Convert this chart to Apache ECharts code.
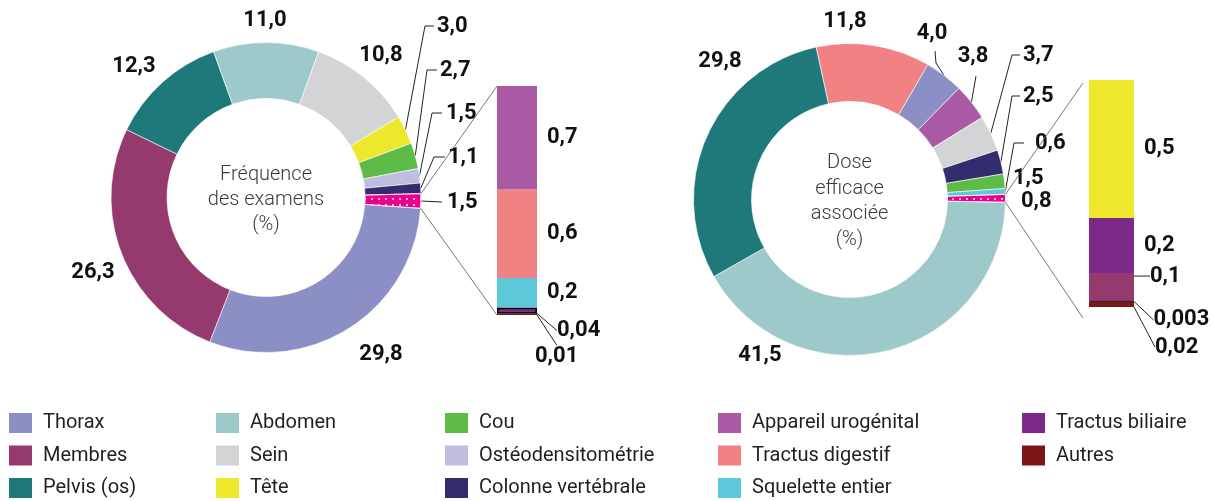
<!DOCTYPE html>
<html><head><meta charset="utf-8">
<script src="https://cdn.jsdelivr.net/npm/echarts@6/dist/echarts.min.js"></script>
<style>html,body{margin:0;padding:0;background:#fff}#c{width:1212px;height:501px}</style>
</head><body><div id="c"></div>
<script>
// ---------------- DATA ----------------
const freqNames = ['Thorax','Membres','Pelvis (os)','Abdomen','Sein','Tête','Cou','Ostéodensitométrie','Colonne vertébrale'];
const freqValues = [29.8, 26.3, 12.3, 11.0, 10.8, 3.0, 2.7, 1.5, 1.1];
const freqOtherTotal = 1.5;
const freqOtherNames = ['Appareil urogénital','Tractus digestif','Squelette entier','Tractus biliaire','Autres'];
const freqOtherValues = [0.7, 0.6, 0.2, 0.04, 0.01];

const doseNames = ['Abdomen','Pelvis (os)','Tractus digestif','Thorax','Appareil urogénital','Sein','Colonne vertébrale','Cou','Squelette entier'];
const doseValues = [41.5, 29.8, 11.8, 4.0, 3.8, 3.7, 2.5, 1.5, 0.6];
const doseOtherTotal = 0.8;
const doseOtherNames = ['Tête','Tractus biliaire','Membres','Ostéodensitométrie','Autres'];
const doseOtherValues = [0.5, 0.2, 0.1, 0.003, 0.02];

const freqTitle = 'Fréquence\ndes examens\n(%)';
const doseTitle = 'Dose\nefficace\nassociée\n(%)';
const otherName = 'Autres examens';

const legendCols = [
  ['Thorax','Membres','Pelvis (os)'],
  ['Abdomen','Sein','Tête'],
  ['Cou','Ostéodensitométrie','Colonne vertébrale'],
  ['Appareil urogénital','Tractus digestif','Squelette entier'],
  ['Tractus biliaire','Autres']
];

// ---------------- STYLE / LAYOUT ----------------
const COLORS = {
  'Thorax':'#8B8FC5','Membres':'#943A6E','Pelvis (os)':'#1F787A','Abdomen':'#9DC9CA',
  'Sein':'#D3D4D6','Tête':'#EEE82C','Cou':'#5FBB47','Ostéodensitométrie':'#BFBEDF',
  'Colonne vertébrale':'#312D6F','Appareil urogénital':'#AA5AA5','Tractus digestif':'#F28184',
  'Squelette entier':'#5CC8D9','Tractus biliaire':'#7C2A8A','Autres':'#7D1416'
};
const OTHER_COLOR = '#EC008C';
const legendLeft = [9, 216, 445, 718, 1022];

const PIE_L = {center:[266,197.5], radius:[99,155], startAngle:-4};
const PIE_R = {center:[849.5,199.5], radius:[98,156], startAngle:-1};
const BAR_L = {left:497, top:86, width:40, height:229, conn:{dx:0, top:0, bottom:0}};
const BAR_R = {left:1089, top:80, width:45, height:227, conn:{dx:-6, top:3, bottom:11}};

const freqLabelPos = {
  'Thorax':{x:381,y:354,align:'center'},
  'Membres':{x:93,y:272,align:'center'},
  'Pelvis (os)':{x:134,y:66,align:'center'},
  'Abdomen':{x:265,y:20,align:'center'},
  'Sein':{x:381,y:55,align:'center'},
  'Tête':{x:437,y:26,line:[[425,26],[434,26]]},
  'Cou':{x:440,y:70,line:[[427,70],[437,70]]},
  'Ostéodensitométrie':{x:446,y:113,line:[[432,113],[442,113]]},
  'Colonne vertébrale':{x:448,y:157,line:[[434,157],[445,157]]},
  [otherName]:{x:447,y:202,line:[[442,202]]}
};
const doseLabelPos = {
  'Abdomen':{x:760,y:355,align:'center'},
  'Pelvis (os)':{x:720,y:61,align:'center'},
  'Tractus digestif':{x:845,y:21,align:'center'},
  'Thorax':{x:932,y:33,align:'center',line:[[936,63],[935,51]]},
  'Appareil urogénital':{x:973,y:56,align:'center',line:[[976,76]]},
  'Sein':{x:1023,y:55,line:[[1012,55],[1020,55]]},
  'Colonne vertébrale':{x:1023,y:96,line:[[1012,96],[1020,96]]},
  'Cou':{x:1013,y:178},
  'Squelette entier':{x:1035,y:143,line:[[1014,143],[1024,143]]},
  [otherName]:{x:1021,y:201}
};

// bar label placements relative to segment rect (R = right edge, B = bottom)
const barLabelL = {
  'Tractus biliaire': r => { const R=r.x+r.width, B=r.y+r.height, lx=R+20, ly=B+17;
    return {x:lx,y:ly,pts:[[R,r.y+r.height/2],[R+13,ly],[R+18,ly]]}; },
  'Autres': r => { const R=r.x+r.width, B=r.y+r.height, lx=R-2, ly=B+41;
    return {x:lx,y:ly,pts:[[R+1,B],[R+3,ly-12]]}; }
};
const barLabelR = {
  'Membres': r => { const R=r.x+r.width, lx=R+16, ly=r.y+3;
    return {x:lx,y:ly,pts:[[R+1,r.y+r.height/2],[R+11,ly+4]]}; },
  'Ostéodensitométrie': r => { const R=r.x+r.width, B=r.y+r.height, lx=R+19, ly=B+18;
    return {x:lx,y:ly,pts:[[R+2,B],[R+12,ly-5]]}; },
  'Autres': r => { const R=r.x+r.width, lx=R+21, ly=r.y+r.height+40;
    return {x:lx,y:ly,pts:[[R+3,r.y+4],[R+6,ly],[R+16,ly]]}; }
};
const outlined = {L:'Tractus biliaire', R:'Ostéodensitométrie'};

const LABEL_FONT = {fontFamily:'Roboto', fontWeight:'bold', fontSize:22, color:'#111'};
const fmt1 = v => Number(v).toFixed(1).replace('.', ',');
const fmtRaw = v => String(v).replace('.', ',');
const sum = a => a.reduce((s,v)=>s+v,0);

// ---------------- BUILD ----------------
function pieSeries(names, values, otherTotal, cfg, pos) {
  const data = names.map((n,i)=>({
    name:n, value:values[i], itemStyle:{color:COLORS[n]},
    labelLine:{show: !!(pos[n] && pos[n].line)}
  }));
  data.push({
    name: otherName, value: otherTotal,
    itemStyle:{color:OTHER_COLOR, decal:{symbol:'circle', symbolSize:1, color:'#ffffff', dashArrayX:[2,5], dashArrayY:[2,4]}},
    labelLine:{show: !!(pos[otherName] && pos[otherName].line)}
  });
  return {
    type:'pie', center:cfg.center, radius:cfg.radius, startAngle:cfg.startAngle, clockwise:true,
    avoidLabelOverlap:false, animation:false, emphasis:{disabled:true},
    itemStyle:{borderColor:'#fff', borderWidth:0.6},
    label:Object.assign({show:true, position:'outside', overflow:'none', formatter:p=>fmt1(p.value)}, LABEL_FONT),
    labelLine:{show:true, length:8, length2:8, smooth:false, lineStyle:{color:'#222', width:1}},
    labelLayout: p => {
      const n = data[p.dataIndex].name, s = pos[n];
      if (!s) return {};
      const out = {x:s.x, y:s.y, align:s.align||'left', verticalAlign:'middle'};
      if (s.line && p.labelLinePoints && p.labelLinePoints.length) {
        out.labelLinePoints = [p.labelLinePoints[0]].concat(s.line);
      }
      return out;
    },
    data
  };
}

function barSeries(names, values, idx, stack, spec, outline) {
  const out = [];
  for (let i = names.length - 1; i >= 0; i--) {
    const n = names[i];
    const f = spec[n];
    out.push({
      type:'bar', name:n, stack, xAxisIndex:idx, yAxisIndex:idx, barWidth:'100%',
      animation:false, emphasis:{disabled:true},
      itemStyle: n === outline ? {color:COLORS[n], borderColor:'#000', borderWidth:1.6} : {color:COLORS[n]},
      label:Object.assign({show:true, position:'right', distance:10, formatter:p=>fmtRaw(p.value)}, LABEL_FONT),
      labelLine:{show: !!f, smooth:false, lineStyle:{color:'#222', width:1}},
      labelLayout: f ? (p => { const r = f(p.rect); return {x:r.x, y:r.y, align:'left', verticalAlign:'middle', labelLinePoints:r.pts}; }) : undefined,
      data:[values[i]]
    });
  }
  return out;
}

const sumL = sum(freqOtherValues), sumR = sum(doseOtherValues);
const chart = echarts.init(document.getElementById('c'), null, {renderer:'canvas'});

const option = {
  animation:false,
  grid:[
    {left:BAR_L.left, top:BAR_L.top, width:BAR_L.width, height:BAR_L.height},
    {left:BAR_R.left, top:BAR_R.top, width:BAR_R.width, height:BAR_R.height}
  ],
  xAxis:[
    {type:'category', gridIndex:0, data:['détail'], show:false},
    {type:'category', gridIndex:1, data:['détail'], show:false}
  ],
  yAxis:[
    {type:'value', gridIndex:0, min:0, max:sumL, show:false},
    {type:'value', gridIndex:1, min:0, max:sumR, show:false}
  ],
  legend: legendCols.map((names,i)=>({
    data:names, left:legendLeft[i], top:413, orient:'vertical', padding:0,
    itemWidth:23, itemHeight:20, itemGap:12.5, icon:'rect', selectedMode:false,
    itemStyle:{borderWidth:0},
    textStyle:{fontFamily:'Roboto', fontSize:20, color:'#231F20', lineHeight:20, padding:[0,0,0,6]}
  })),
  graphic:[
    {type:'text', id:'tL', x:PIE_L.center[0], y:200, silent:true,
     style:{text:freqTitle, font:'300 20px Roboto', fill:'#3a3a3a', align:'center', verticalAlign:'middle', textAlign:'center', textVerticalAlign:'middle', lineHeight:25}},
    {type:'text', id:'tR', x:PIE_R.center[0], y:201.5, silent:true,
     style:{text:doseTitle, font:'300 20px Roboto', fill:'#3a3a3a', align:'center', verticalAlign:'middle', textAlign:'center', textVerticalAlign:'middle', lineHeight:25.5}}
  ],
  series:[
    pieSeries(freqNames, freqValues, freqOtherTotal, PIE_L, freqLabelPos),
    pieSeries(doseNames, doseValues, doseOtherTotal, PIE_R, doseLabelPos)
  ].concat(
    barSeries(freqOtherNames, freqOtherValues, 0, 'L', barLabelL, outlined.L),
    barSeries(doseOtherNames, doseOtherValues, 1, 'R', barLabelR, outlined.R)
  )
};
chart.setOption(option);

// connectors from the "autres" slice to the detail bar
function edge(cfg, deg) {
  const a = deg * Math.PI / 180, R = cfg.radius[1];
  return [cfg.center[0] + R*Math.cos(a), cfg.center[1] - R*Math.sin(a)];
}
function connectors(id, pie, names, values, otherTotal, barCfg, idx, total) {
  const all = sum(values) + otherTotal;
  const lo = edge(pie, pie.startAngle);
  const hi = edge(pie, pie.startAngle + 360 * otherTotal / all);
  const top = chart.convertToPixel({xAxisIndex:idx, yAxisIndex:idx}, ['détail', total]);
  const bot = chart.convertToPixel({xAxisIndex:idx, yAxisIndex:idx}, ['détail', 0]);
  const bx = top[0] - barCfg.width/2 + barCfg.conn.dx;
  const st = {stroke:'#555', lineWidth:0.8};
  return [
    {type:'line', id:id+'a', silent:true, z:10, shape:{x1:hi[0], y1:hi[1], x2:bx, y2:top[1]+barCfg.conn.top}, style:st},
    {type:'line', id:id+'b', silent:true, z:10, shape:{x1:lo[0], y1:lo[1], x2:bx, y2:bot[1]+barCfg.conn.bottom}, style:st}
  ];
}
chart.setOption({graphic:[].concat(
  connectors('cL', PIE_L, freqNames, freqValues, freqOtherTotal, BAR_L, 0, sumL),
  connectors('cR', PIE_R, doseNames, doseValues, doseOtherTotal, BAR_R, 1, sumR)
)});
</script>
</body></html>
